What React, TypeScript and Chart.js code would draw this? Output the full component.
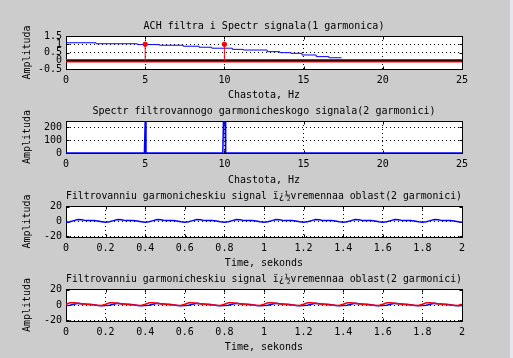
import React, { useEffect, useRef } from "react";
import { Chart, registerables } from "chart.js";

Chart.register(...registerables);
Chart.defaults.color = "#000";

// ---------- data ----------
// Subplot 1: filter frequency response (stairs) + stem spectrum
const F1_STEP = [0, 1.9, 4.5, 5.9, 7.4, 8.4, 9.2, 10.5, 11.2, 12.7, 13.5, 14.2, 14.9, 15.8, 16.6, 17.4];
const A1_STEP = [1.09, 1.03, 0.98, 0.94, 0.88, 0.82, 0.76, 0.69, 0.65, 0.55, 0.49, 0.45, 0.35, 0.25, 0.18, 0.18];
const STEM_FREQ = [5, 10];
const STEM_AMP = [1, 1];
const BASE_FREQ = [0, 25];

// Subplot 2: spectrum of the filtered signal
const F2 = [0, 4.95, 5, 5.05, 9.9, 9.94, 10.04, 10.08, 25];
const A2 = [0, 0, 250, 0, 0, 250, 250, 0, 0];

// Subplots 3 & 4: time signals
const TIME = [
  0, 0.02, 0.04, 0.06, 0.08, 0.1, 0.12, 0.14, 0.16, 0.18,
  0.2, 0.22, 0.24, 0.26, 0.28, 0.3, 0.32, 0.34, 0.36, 0.38,
  0.4, 0.42, 0.44, 0.46, 0.48, 0.5, 0.52, 0.54, 0.56, 0.58,
  0.6, 0.62, 0.64, 0.66, 0.68, 0.7, 0.72, 0.74, 0.76, 0.78,
  0.8, 0.82, 0.84, 0.86, 0.88, 0.9, 0.92, 0.94, 0.96, 0.98,
  1, 1.02, 1.04, 1.06, 1.08, 1.1, 1.12, 1.14, 1.16, 1.18,
  1.2, 1.22, 1.24, 1.26, 1.28, 1.3, 1.32, 1.34, 1.36, 1.38,
  1.4, 1.42, 1.44, 1.46, 1.48, 1.5, 1.52, 1.54, 1.56, 1.58,
  1.6, 1.62, 1.64, 1.66, 1.68, 1.7, 1.72, 1.74, 1.76, 1.78,
  1.8, 1.82, 1.84, 1.86, 1.88, 1.9, 1.92, 1.94, 1.96, 1.98,
  2,
];
const S3 = [
  -1.0, -0.2, 1.2, 2.6, 2.4, 1.2, 1.3, 1.5, 0.6, -0.4,
  -1.0, -0.2, 1.2, 2.6, 2.4, 1.2, 1.3, 1.5, 0.6, -0.4,
  -1.0, -0.2, 1.2, 2.6, 2.4, 1.2, 1.3, 1.5, 0.6, -0.4,
  -1.0, -0.2, 1.2, 2.6, 2.4, 1.2, 1.3, 1.5, 0.6, -0.4,
  -1.0, -0.2, 1.2, 2.6, 2.4, 1.2, 1.3, 1.5, 0.6, -0.4,
  -1.0, -0.2, 1.2, 2.6, 2.4, 1.2, 1.3, 1.5, 0.6, -0.4,
  -1.0, -0.2, 1.2, 2.6, 2.4, 1.2, 1.3, 1.5, 0.6, -0.4,
  -1.0, -0.2, 1.2, 2.6, 2.4, 1.2, 1.3, 1.5, 0.6, -0.4,
  -1.0, -0.2, 1.2, 2.6, 2.4, 1.2, 1.3, 1.5, 0.6, -0.4,
  -1.0, -0.2, 1.2, 2.6, 2.4, 1.2, 1.3, 1.5, 0.6, -0.4,
  -1.0,
];
const S4_FILT = [
  -0.6, -0.3, 1.0, 2.3, 1.6, 1.2, 1.0, 0.5, -0.6, -1.0,
  -0.6, -0.3, 1.0, 2.3, 1.6, 1.2, 1.0, 0.5, -0.6, -1.0,
  -0.6, -0.3, 1.0, 2.3, 1.6, 1.2, 1.0, 0.5, -0.6, -1.0,
  -0.6, -0.3, 1.0, 2.3, 1.6, 1.2, 1.0, 0.5, -0.6, -1.0,
  -0.6, -0.3, 1.0, 2.3, 1.6, 1.2, 1.0, 0.5, -0.6, -1.0,
  -0.6, -0.3, 1.0, 2.3, 1.6, 1.2, 1.0, 0.5, -0.6, -1.0,
  -0.6, -0.3, 1.0, 2.3, 1.6, 1.2, 1.0, 0.5, -0.6, -1.0,
  -0.6, -0.3, 1.0, 2.3, 1.6, 1.2, 1.0, 0.5, -0.6, -1.0,
  -0.6, -0.3, 1.0, 2.3, 1.6, 1.2, 1.0, 0.5, -0.6, -1.0,
  -0.6, -0.3, 1.0, 2.3, 1.6, 1.2, 1.0, 0.5, -0.6, -1.0,
  -0.6,
];
const S4_ORIG = [
  1.0, 3.0, 3.0, 2.2, 1.2, 1.0, 0.4, 0.0, -0.3, -0.7,
  1.0, 3.0, 3.0, 2.2, 1.2, 1.0, 0.4, 0.0, -0.3, -0.7,
  1.0, 3.0, 3.0, 2.2, 1.2, 1.0, 0.4, 0.0, -0.3, -0.7,
  1.0, 3.0, 3.0, 2.2, 1.2, 1.0, 0.4, 0.0, -0.3, -0.7,
  1.0, 3.0, 3.0, 2.2, 1.2, 1.0, 0.4, 0.0, -0.3, -0.7,
  1.0, 3.0, 3.0, 2.2, 1.2, 1.0, 0.4, 0.0, -0.3, -0.7,
  1.0, 3.0, 3.0, 2.2, 1.2, 1.0, 0.4, 0.0, -0.3, -0.7,
  1.0, 3.0, 3.0, 2.2, 1.2, 1.0, 0.4, 0.0, -0.3, -0.7,
  1.0, 3.0, 3.0, 2.2, 1.2, 1.0, 0.4, 0.0, -0.3, -0.7,
  1.0, 3.0, 3.0, 2.2, 1.2, 1.0, 0.4, 0.0, -0.3, -0.7,
  1.0,
];

// ticks
const FREQ_TICKS = [0, 5, 10, 15, 20, 25];
const FREQ_LABELS = ["0", "5", "10", "15", "20", "25"];
const TIME_TICKS = [0, 0.2, 0.4, 0.6, 0.8, 1, 1.2, 1.4, 1.6, 1.8, 2];
const TIME_LABELS = ["0", "0.2", "0.4", "0.6", "0.8", "1", "1.2", "1.4", "1.6", "1.8", "2"];
const Y1_TICKS = [-0.5, 0, 0.5, 1, 1.5];
const Y1_LABELS = ["-0.5", "0", "0.5", "1", "1.5"];
const Y2_TICKS = [0, 100, 200];
const Y2_LABELS = ["0", "100", "200"];
const Y34_TICKS = [-20, 0, 20];
const Y34_LABELS = ["-20", "0", "20"];

// texts
const TITLE1 = "ACH filtra i Spectr signala(1 garmonica)";
const TITLE2 = "Spectr filtrovannogo garmonicheskogo signala(2 garmonici)";
const TITLE3 = "Filtrovanniu garmonicheskiu signal ï¿½vremennaa oblast(2 garmonici)";
const TITLE4 = "Filtrovanniu garmonicheskiu signal ï¿½vremennaa oblast(2 garmonici)";
const X_FREQ = "Chastota, Hz";
const X_TIME = "Time, sekonds";
const Y_LABEL = "Amplituda";

// ---------- styling ----------
const FONT = { family: "'DejaVu Sans Mono', monospace", size: 10, weight: "normal" as const };
const BLUE = "#0000ff";
const RED = "#ff0000";

const framePlugin = {
  id: "matlabFrame",
  beforeDraw(chart: any) {
    const { ctx, chartArea: a } = chart;
    ctx.save();
    ctx.fillStyle = "#ffffff";
    ctx.fillRect(a.left, a.top, a.right - a.left, a.bottom - a.top);
    ctx.restore();
  },
  beforeDatasetsDraw(chart: any) {
    const { ctx, chartArea: a, scales } = chart;
    const L = Math.round(a.left) + 0.5;
    const R = Math.round(a.right) + 0.5;
    const T = Math.round(a.top) + 0.5;
    const B = Math.round(a.bottom) + 0.5;
    const len = 3;
    ctx.save();
    ctx.strokeStyle = "#000";
    ctx.lineWidth = 1;
    ctx.setLineDash([]);
    ctx.beginPath();
    ctx.rect(L, T, R - L, B - T);
    scales.x.ticks.forEach((t: any) => {
      const px = Math.round(scales.x.getPixelForValue(t.value)) + 0.5;
      ctx.moveTo(px, T);
      ctx.lineTo(px, T + len);
      ctx.moveTo(px, B);
      ctx.lineTo(px, B - len);
    });
    scales.y.ticks.forEach((t: any) => {
      const py = Math.round(scales.y.getPixelForValue(t.value)) + 0.5;
      ctx.moveTo(L, py);
      ctx.lineTo(L + len, py);
      ctx.moveTo(R, py);
      ctx.lineTo(R - len, py);
    });
    ctx.stroke();
    ctx.restore();
  },
};

type Spec = {
  top: number;
  height: number;
  xAxisH: number;
  title: string;
  xTitle: string;
  xMin: number;
  xMax: number;
  xTicks: number[];
  xLabels: string[];
  yMin: number;
  yMax: number;
  yTicks: number[];
  yLabels: string[];
  datasets: any[];
};

const pts = (xs: number[], ys: number[]) => xs.map((x, i) => ({ x, y: ys[i] }));

const lineDs = (data: any[], color: string, width: number, extra: any = {}) => ({
  data,
  borderColor: color,
  backgroundColor: color,
  borderWidth: width,
  pointRadius: 0,
  pointHoverRadius: 0,
  fill: false,
  tension: 0,
  ...extra,
});

function Subplot({ spec }: { spec: Spec }) {
  const ref = useRef<HTMLCanvasElement>(null);
  useEffect(() => {
    const chart = new Chart(ref.current as HTMLCanvasElement, {
      type: "line",
      data: { datasets: spec.datasets },
      options: {
        animation: false,
        responsive: false,
        maintainAspectRatio: false,
        events: [],
        layout: { padding: { left: 0, right: 51, top: 0, bottom: 0 } },
        plugins: {
          legend: { display: false },
          tooltip: { enabled: false },
          title: {
            display: true,
            text: spec.title,
            font: FONT,
            color: "#000",
            fullSize: false,
            padding: { top: 0, bottom: 4 },
          },
        },
        scales: {
          x: {
            type: "linear",
            min: spec.xMin,
            max: spec.xMax,
            afterBuildTicks: (axis: any) => {
              axis.ticks = spec.xTicks.map((v) => ({ value: v }));
            },
            afterFit: (axis: any) => {
              axis.height = spec.xAxisH;
            },
            ticks: {
              autoSkip: false,
              maxRotation: 0,
              padding: 5,
              font: FONT,
              color: "#000",
              callback: (_v: any, i: number) => spec.xLabels[i],
            },
            grid: { color: "#000", lineWidth: 1, drawTicks: false },
            border: { display: false, dash: [1, 3] },
            title: {
              display: true,
              text: spec.xTitle,
              font: FONT,
              color: "#000",
              padding: { top: 0, bottom: 2 },
            },
          },
          y: {
            type: "linear",
            min: spec.yMin,
            max: spec.yMax,
            afterBuildTicks: (axis: any) => {
              axis.ticks = spec.yTicks.map((v) => ({ value: v }));
            },
            afterFit: (axis: any) => {
              axis.width = 66;
            },
            ticks: {
              autoSkip: false,
              padding: 4,
              font: FONT,
              color: "#000",
              callback: (_v: any, i: number) => spec.yLabels[i],
            },
            grid: { color: "#000", lineWidth: 1, drawTicks: false },
            border: { display: false, dash: [1, 3] },
            title: {
              display: true,
              text: Y_LABEL,
              font: FONT,
              color: "#000",
              padding: { top: 21, bottom: 0 },
            },
          },
        },
      } as any,
      plugins: [framePlugin],
    });
    return () => chart.destroy();
  }, [spec]);
  return (
    <canvas
      ref={ref}
      width={513}
      height={spec.height}
      style={{ position: "absolute", left: 0, top: spec.top, width: 513, height: spec.height }}
    />
  );
}

const SPECS: Spec[] = [
  {
    top: 20,
    height: 83,
    xAxisH: 34,
    title: TITLE1,
    xTitle: X_FREQ,
    xMin: 0,
    xMax: 25,
    xTicks: FREQ_TICKS,
    xLabels: FREQ_LABELS,
    yMin: -0.5,
    yMax: 1.5,
    yTicks: Y1_TICKS,
    yLabels: Y1_LABELS,
    datasets: [
      ...STEM_FREQ.map((f, i) =>
        lineDs(
          [
            { x: f, y: 0 },
            { x: f, y: STEM_AMP[i] },
          ],
          RED,
          1,
          { pointRadius: (c: any) => (c.dataIndex === 1 ? 2.2 : 0), pointBorderWidth: 1 }
        )
      ),
      lineDs(pts(BASE_FREQ, [0, 0]), "#000", 1),
      lineDs(pts(BASE_FREQ, [0, 0]), RED, 3.5),
      lineDs(pts(F1_STEP, A1_STEP), BLUE, 1, { stepped: true }),
    ],
  },
  {
    top: 105,
    height: 83,
    xAxisH: 35,
    title: TITLE2,
    xTitle: X_FREQ,
    xMin: 0,
    xMax: 25,
    xTicks: FREQ_TICKS,
    xLabels: FREQ_LABELS,
    yMin: 0,
    yMax: 250,
    yTicks: Y2_TICKS,
    yLabels: Y2_LABELS,
    datasets: [lineDs(pts(F2, A2), BLUE, 1.5)],
  },
  {
    top: 190,
    height: 81,
    xAxisH: 34,
    title: TITLE3,
    xTitle: X_TIME,
    xMin: 0,
    xMax: 2,
    xTicks: TIME_TICKS,
    xLabels: TIME_LABELS,
    yMin: -21,
    yMax: 21,
    yTicks: Y34_TICKS,
    yLabels: Y34_LABELS,
    datasets: [lineDs(pts(TIME, S3), BLUE, 1.5)],
  },
  {
    top: 273,
    height: 82,
    xAxisH: 34,
    title: TITLE4,
    xTitle: X_TIME,
    xMin: 0,
    xMax: 2,
    xTicks: TIME_TICKS,
    xLabels: TIME_LABELS,
    yMin: -21,
    yMax: 21,
    yTicks: Y34_TICKS,
    yLabels: Y34_LABELS,
    datasets: [lineDs(pts(TIME, S4_ORIG), RED, 1.5), lineDs(pts(TIME, S4_FILT), BLUE, 1.5)],
  },
];

export default function App() {
  return (
    <div
      style={{
        position: "absolute",
        left: 0,
        top: 0,
        width: 513,
        height: 358,
        background: "#cccccc",
        overflow: "hidden",
      }}
    >
      {SPECS.map((s, i) => (
        <Subplot key={i} spec={s} />
      ))}
      <div
        style={{
          position: "absolute",
          left: 510,
          top: 0,
          width: 3,
          height: 358,
          background: "#e6e6ec",
        }}
      />
    </div>
  );
}
